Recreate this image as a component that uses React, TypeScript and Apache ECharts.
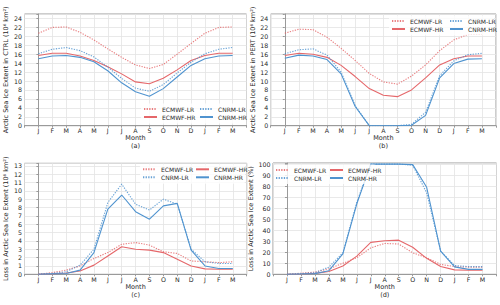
import React, { useEffect, useRef } from 'react';
import * as echarts from 'echarts';

const MONTHS = ['J', 'F', 'M', 'A', 'M', 'J', 'J', 'A', 'S', 'O', 'N', 'D', 'J', 'F', 'M'];
const SERIES_NAMES = ['ECMWF-LR', 'ECMWF-HR', 'CNRM-LR', 'CNRM-HR'];

// (a) CTRL extent (10^6 km^2)
const ctrlEcmwfLR = [20.7, 22.0, 22.1, 20.9, 19.2, 17.2, 15.3, 13.6, 12.8, 13.7, 16.0, 18.4, 20.7, 22.0, 22.1];
const ctrlEcmwfHR = [15.7, 16.2, 16.2, 15.6, 14.6, 13.2, 11.6, 9.8, 9.4, 10.6, 12.5, 14.6, 15.7, 16.2, 16.2];
const ctrlCnrmLR = [16.1, 17.1, 17.5, 16.8, 15.4, 13.1, 10.6, 8.4, 7.7, 9.2, 11.8, 14.2, 16.1, 17.1, 17.5];
const ctrlCnrmHR = [15.0, 15.6, 15.7, 15.3, 14.3, 12.3, 9.6, 7.6, 6.6, 8.3, 10.9, 13.5, 15.0, 15.6, 15.7];

// (b) PERT extent (10^6 km^2)
const pertEcmwfLR = [20.7, 21.6, 21.5, 19.8, 17.3, 14.6, 11.7, 9.8, 9.3, 11.1, 13.6, 16.8, 19.2, 20.4, 20.4];
const pertEcmwfHR = [15.7, 16.2, 16.0, 15.3, 13.5, 11.0, 8.3, 6.8, 6.5, 8.0, 10.7, 13.6, 15.0, 15.6, 15.6];
const pertCnrmLR = [16.1, 17.0, 17.2, 15.8, 12.0, 4.5, 0, 0, 0, 0.3, 3.0, 11.2, 14.5, 15.9, 16.2];
const pertCnrmHR = [15.1, 15.8, 15.6, 14.8, 11.6, 4.3, 0, 0, 0, 0.1, 2.3, 10.7, 13.9, 14.9, 15.0];

// (c) loss (10^6 km^2)
const lossEcmwfLR = [0, 0.2, 0.5, 1.0, 1.9, 2.6, 3.6, 3.8, 3.5, 2.7, 2.5, 1.6, 1.5, 1.4, 1.5];
const lossEcmwfHR = [0, 0.05, 0.15, 0.4, 1.1, 2.2, 3.3, 3.0, 2.9, 2.6, 1.8, 1.0, 0.65, 0.6, 0.6];
const lossCnrmLR = [0, 0.1, 0.3, 1.1, 3.0, 8.6, 10.8, 8.4, 7.7, 9.0, 8.4, 3.0, 1.5, 1.3, 1.3];
const lossCnrmHR = [0, 0.05, 0.1, 0.5, 2.6, 7.8, 9.5, 7.5, 6.6, 8.2, 8.5, 2.9, 1.0, 0.7, 0.7];

// (d) loss (%)
const pctEcmwfLR = [0, 1, 2, 5, 10, 15, 24, 28, 27.5, 19.5, 15, 9, 7, 6.5, 6.5];
const pctEcmwfHR = [0, 0.3, 0.8, 2.5, 7.5, 16.5, 29, 30.5, 31, 24.5, 14.5, 7, 4, 3.7, 3.7];
const pctCnrmLR = [0, 0.5, 1.5, 6.5, 19.5, 65.5, 100, 100, 100, 99, 74, 21, 8, 7, 7];
const pctCnrmHR = [0, 0.3, 0.6, 3.3, 18.5, 64, 100, 100, 100, 99.5, 79, 21, 6.7, 4.5, 4.5];

const FONT = 'DejaVu Sans';
const RED = '#e5676a';
const BLUE = '#4f93cf';
const AXIS = '#9a9a9a';
const GRIDC = '#e3e3e3';
const TXT = '#2a2a2a';

const panels = [
  {
    grid: { left: 24.5, top: 14, width: 222, height: 111.7 },
    yMax: 25, yInterval: 2, yName: 'Arctic Sea Ice Extent in CTRL (10⁶ km²)', nameGap: 15,
    fmt: (v: number) => (v % 2 === 0 ? String(v) : ''),
    data: [ctrlEcmwfLR, ctrlEcmwfHR, ctrlCnrmLR, ctrlCnrmHR], letter: '(a)',
    legendCols: [
      { left: 143, top: 105, data: ['ECMWF-LR', 'ECMWF-HR'] },
      { left: 199, top: 105, data: ['CNRM-LR', 'CNRM-HR'] },
    ],
    legendBox: { x: 141, y: 103.5, width: 104, height: 20 },
  },
  {
    grid: { left: 270.7, top: 14, width: 225.3, height: 111.7 },
    yMax: 25, yInterval: 2, yName: 'Arctic Sea Ice Extent in PERT (10⁶ km²)', nameGap: 12,
    fmt: (v: number) => (v % 2 === 0 ? String(v) : ''),
    data: [pertEcmwfLR, pertEcmwfHR, pertCnrmLR, pertCnrmHR], letter: '(b)',
    legendCols: [
      { left: 391, top: 17, data: ['ECMWF-LR', 'ECMWF-HR'] },
      { left: 449, top: 17, data: ['CNRM-LR', 'CNRM-HR'] },
    ],
    legendBox: { x: 389, y: 15.5, width: 105, height: 20 },
  },
  {
    grid: { left: 24.5, top: 163.3, width: 222.2, height: 111 },
    yMax: 13.3, yInterval: 1, yName: 'Loss in Arctic Sea Ice Extent (10⁶ km²)', nameGap: 15,
    fmt: (v: number) => (Number.isInteger(v) ? String(v) : ''),
    data: [lossEcmwfLR, lossEcmwfHR, lossCnrmLR, lossCnrmHR], letter: '(c)',
    legendCols: [
      { left: 142, top: 165.3, data: ['ECMWF-LR', 'CNRM-LR'] },
      { left: 195, top: 165.3, data: ['ECMWF-HR', 'CNRM-HR'] },
    ],
    legendBox: { x: 140, y: 164.3, width: 105, height: 19.5 },
  },
  {
    grid: { left: 273, top: 163, width: 223.5, height: 111.3 },
    yMax: 101, yInterval: 10, yName: 'Loss in Arctic Sea Ice Extent (%)', nameGap: 14.5,
    fmt: (v: number) => (v % 10 === 0 ? String(v) : ''),
    data: [pctEcmwfLR, pctEcmwfHR, pctCnrmLR, pctCnrmHR], letter: '(d)',
    legendCols: [
      { left: 275, top: 166, data: ['ECMWF-LR', 'CNRM-LR'] },
      { left: 329, top: 166, data: ['ECMWF-HR', 'CNRM-HR'] },
    ],
    legendBox: { x: 274, y: 164.5, width: 102, height: 19.5 },
  },
];

const seriesStyle = (name: string) => {
  const isRed = name.startsWith('ECMWF');
  const isLR = name.endsWith('LR');
  return {
    color: isRed ? RED : BLUE,
    width: 1.1,
    type: isLR ? [1.3, 1.3] : 'solid',
    opacity: isLR ? 0.85 : 1,
  };
};

export default function App() {
  const ref = useRef<HTMLDivElement>(null);

  useEffect(() => {
    if (!ref.current) return;
    const chart = echarts.init(ref.current, undefined, { renderer: 'svg' });

    const grids: any[] = [];
    const xAxes: any[] = [];
    const yAxes: any[] = [];
    const series: any[] = [];
    const legends: any[] = [];
    const graphics: any[] = [];

    panels.forEach((p, gi) => {
      grids.push({ ...p.grid, show: true, borderColor: AXIS, borderWidth: 1, backgroundColor: 'transparent', containLabel: false });
      xAxes.push({
        type: 'value', gridIndex: gi, min: -1, max: 15, interval: 1,
        name: 'Month', nameLocation: 'middle', nameGap: 7.5,
        nameTextStyle: { fontSize: 6.5, color: TXT, fontFamily: FONT },
        axisLine: { show: true, lineStyle: { color: AXIS, width: 1 } },
        axisTick: { show: true, length: 2, lineStyle: { color: AXIS } },
        axisLabel: {
          margin: 2, fontSize: 6.3, color: TXT, fontFamily: FONT,
          formatter: (v: number) => (v >= 0 && v < MONTHS.length ? MONTHS[Math.round(v)] : ''),
        },
        splitLine: { show: true, lineStyle: { color: GRIDC, width: 0.8 } },
      });
      yAxes.push({
        type: 'value', gridIndex: gi, min: 0, max: p.yMax, interval: p.yInterval,
        name: p.yName, nameLocation: 'middle', nameGap: p.nameGap,
        nameTextStyle: { fontSize: 6.5, color: TXT, fontFamily: FONT },
        axisLine: { show: true, lineStyle: { color: AXIS, width: 1 } },
        axisTick: { show: true, length: 2, lineStyle: { color: AXIS } },
        axisLabel: { margin: 2.5, fontSize: 6.3, color: TXT, fontFamily: FONT, formatter: p.fmt },
        splitLine: { show: true, lineStyle: { color: GRIDC, width: 0.8 } },
      });
      SERIES_NAMES.forEach((name, si) => {
        const st = seriesStyle(name);
        series.push({
          type: 'line', name, xAxisIndex: gi, yAxisIndex: gi,
          data: p.data[si].map((v, i) => [i, v]),
          symbol: 'none', silent: true,
          lineStyle: { color: st.color, width: st.width, type: st.type, opacity: st.opacity },
          itemStyle: { color: st.color },
          z: 2,
        });
      });
      p.legendCols.forEach((lc) => {
        legends.push({
          orient: 'vertical', left: lc.left, top: lc.top, data: lc.data,
          padding: 0, itemGap: 0, itemWidth: 13, itemHeight: 5,
          selectedMode: false, z: 6,
          itemStyle: { opacity: 0, borderWidth: 0 },
          textStyle: { fontSize: 6, lineHeight: 8, color: TXT, fontFamily: FONT },
        });
      });
      graphics.push({
        type: 'rect', z: 5, silent: true,
        shape: { ...p.legendBox, r: 2 },
        style: { fill: 'rgba(255,255,255,0.8)', stroke: 'none' },
      });
      graphics.push({
        type: 'text', silent: true,
        x: p.grid.left + p.grid.width / 2, y: p.grid.top + p.grid.height + 20.5,
        style: { text: p.letter, textAlign: 'center', textVerticalAlign: 'middle', fontSize: 6.5, fontFamily: FONT, fill: TXT },
      });
    });

    chart.setOption({
      animation: false,
      backgroundColor: '#ffffff',
      textStyle: { fontFamily: FONT },
      grid: grids,
      xAxis: xAxes,
      yAxis: yAxes,
      legend: legends,
      series,
      graphic: graphics,
    });

    return () => chart.dispose();
  }, []);

  return <div ref={ref} style={{ position: 'fixed', left: 0, top: 0, width: 500, height: 305 }} />;
}
